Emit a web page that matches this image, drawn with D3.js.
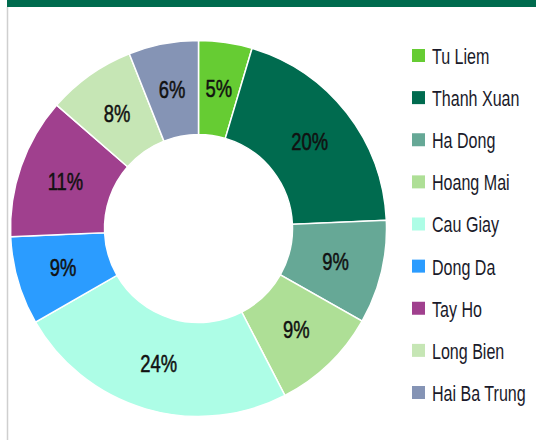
<!DOCTYPE html>
<html>
<head>
<meta charset="utf-8">
<script src="https://cdn.jsdelivr.net/npm/d3@7"></script>
<style>
  body { margin: 0; background: #fff; }
  .container { width: 536px; height: 440px; }
</style>
</head>
<body>
<div class="container"></div>
<script>
// chart size
const width = 536;
const height = 440;

// districts, shares and the printed labels
const districts = ["Tu Liem", "Thanh Xuan", "Ha Dong", "Hoang Mai", "Cau Giay", "Dong Da", "Tay Ho", "Long Bien", "Hai Ba Trung"];
const shares = [4.6, 19.7, 8.9, 9.2, 24.3, 7.6, 12.1, 7.6, 6.0];
const labels = ["5%", "20%", "9%", "9%", "24%", "9%", "11%", "8%", "6%"];
const colors = ["#66cc33", "#006b4f", "#66a896", "#aedf96", "#adfde6", "#2b9cff", "#a0408e", "#c6e6b5", "#8594b5"];

// no condensed font installed, so squeeze Liberation Sans sideways
const font = "'Liberation Sans', Arial, sans-serif";

const svg = d3.select(".container")
  .append("svg")
  .attr("width", width)
  .attr("height", height);

// dark green band on top and the grey frame line on the left
svg.append("rect")
  .attr("x", 7).attr("y", 0)
  .attr("width", width - 7).attr("height", 7)
  .attr("fill", "#006b4e");
svg.append("line")
  .attr("x1", 7.5).attr("x2", 7.5)
  .attr("y1", 7).attr("y2", height)
  .attr("stroke", "#cfcfcf")
  .attr("stroke-width", 1.5);

// donut
const cx = 198.5, cy = 228.5;
const outer = 188, inner = 94;

const pie = d3.pie().sort(null).value(d => d)(shares);
const arc = d3.arc().innerRadius(inner).outerRadius(outer);

const g = svg.append("g").attr("transform", `translate(${cx},${cy})`);

g.selectAll("path")
  .data(pie)
  .join("path")
  .attr("d", arc)
  .attr("fill", (d, i) => colors[i])
  .attr("stroke", "#fff")
  .attr("stroke-width", 1.5);

g.selectAll("text")
  .data(pie)
  .join("text")
  .attr("transform", d => `translate(${arc.centroid(d)}) scale(0.8,1)`)
  .attr("text-anchor", "middle")
  .attr("dy", "0.36em")
  .attr("font-family", font)
  .attr("font-size", "23px")
  .attr("fill", "#111")
  .attr("stroke", "#111")
  .attr("stroke-width", 0.5)
  .text((d, i) => labels[i]);

// legend on the right
const legendY = d3.scalePoint()
  .domain(districts)
  .range([56, 393]);

const legend = svg.append("g")
  .selectAll("g")
  .data(districts)
  .join("g")
  .attr("transform", d => `translate(412,${legendY(d)})`);

legend.append("rect")
  .attr("x", 0).attr("y", -7)
  .attr("width", 13).attr("height", 13)
  .attr("fill", (d, i) => colors[i]);

legend.append("text")
  .attr("transform", "translate(20,0) scale(0.73,1)")
  .attr("dy", "0.36em")
  .attr("font-family", font)
  .attr("font-size", "22px")
  .attr("fill", "#1a1a2a")
  .text(d => d);
</script>
</body>
</html>
